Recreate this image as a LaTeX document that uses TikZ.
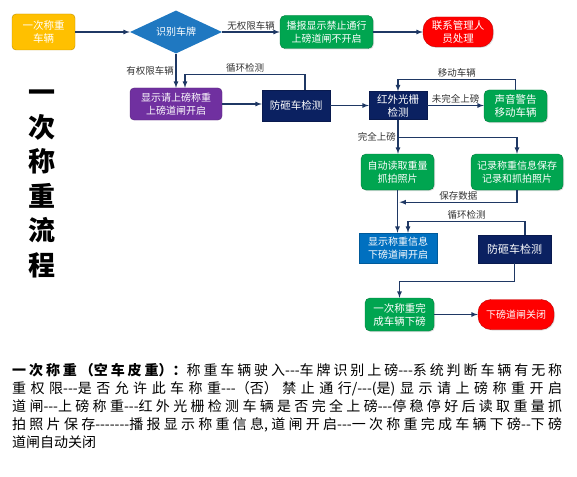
\documentclass[tikz,border=0pt]{standalone}
\usepackage{fontspec}
\newfontfamily\cjk{Noto Sans CJK SC}[Ligatures=TeXOff]
\usetikzlibrary{shapes.geometric,calc,shadows}
\XeTeXlinebreaklocale "zh"
\XeTeXlinebreakskip=0pt plus 4pt

\definecolor{startorange}{HTML}{FFC000}
\definecolor{plateblue}{HTML}{1F78C1}
\definecolor{flowgreen}{HTML}{00A550}
\definecolor{alarmred}{HTML}{FF0000}
\definecolor{openpurple}{HTML}{7030A0}
\definecolor{checknavy}{HTML}{0B2161}
\definecolor{infoblue}{HTML}{0070C0}
\definecolor{arrowblue}{HTML}{1F3864}
\definecolor{labelgray}{HTML}{333333}

\begin{document}
\begin{tikzpicture}[
    x=1pt, y=-1pt,
    box/.style={rectangle, align=center, text=white, inner sep=0pt, font=\cjk\fontsize{10}{12.5}\selectfont},
    greenbox/.style={box, fill=flowgreen, draw=flowgreen!75!black, rounded corners=5pt, drop shadow={shadow xshift=1pt, shadow yshift=-1pt, opacity=0.25}},
    redbox/.style={box, fill=alarmred, draw=alarmred!75!black, rounded corners=13pt, drop shadow={shadow xshift=1pt, shadow yshift=-1pt, opacity=0.25}},
    navybox/.style={box, fill=checknavy, draw=checknavy!80!black, font=\cjk\fontsize{10.5}{13}\selectfont},
    line/.style={draw=arrowblue, line width=1.2pt, -latex},
    lbl/.style={text=labelgray, inner sep=1.5pt, font=\cjk\fontsize{9.5}{11}\selectfont}
]
\useasboundingbox (0,0) rectangle (577,476);

% top row
\node[box, fill=startorange, draw=startorange!75!black, rounded corners=4pt, minimum width=63pt, minimum height=36pt, font=\cjk\fontsize{10.5}{13}\selectfont] (start) at (43.5,32) {一次称重\\车辆};
\node[box, diamond, aspect=2.14, fill=plateblue, minimum width=92pt, minimum height=43pt] (plate) at (176,32) {识别车牌};
\node[greenbox, minimum width=93pt, minimum height=33pt] (deny) at (326.5,32) {播报显示禁止通行\\上磅道闸不开启};
\node[redbox, minimum width=70pt, minimum height=30pt, font=\cjk\fontsize{10.5}{13}\selectfont] (manager) at (458,32) {联系管理人\\员处理};

% second row
\node[box, fill=openpurple, draw=openpurple!75!black, rounded corners=4pt, minimum width=92pt, minimum height=32pt] (showon) at (176,104) {显示请上磅称重\\上磅道闸开启};
\node[navybox, minimum width=68pt, minimum height=31pt] (guardin) at (296,105.5) {防砸车检测};
\node[navybox, minimum width=58pt, minimum height=28pt] (grating) at (398,105.5) {红外光栅\\检测};
\node[greenbox, minimum width=63pt, minimum height=32pt, font=\cjk\fontsize{10.5}{13}\selectfont] (warn) at (515.5,106) {声音警告\\移动车辆};

% weighing
\node[greenbox, minimum width=73pt, minimum height=36pt] (autoread) at (397.5,172) {自动读取重量\\抓拍照片};
\node[greenbox, minimum width=92pt, minimum height=36pt] (record) at (517,172) {记录称重信息保存\\记录和抓拍照片};
\node[box, fill=infoblue, draw=infoblue!80!black, minimum width=78pt, minimum height=30pt] (showinfo) at (398,248) {显示称重信息\\下磅道闸开启};
\node[navybox, minimum width=73pt, minimum height=28pt, font=\cjk\fontsize{11}{13}\selectfont] (guardout) at (514.5,249) {防砸车检测};
\node[greenbox, minimum width=69pt, minimum height=33pt, font=\cjk\fontsize{10.5}{13}\selectfont] (done) at (399.5,314.5) {一次称重完\\成车辆下磅};
\node[redbox, minimum width=76pt, minimum height=30pt] (close) at (516,314.5) {下磅道闸关闭};

% title and description
\node[font=\cjk\bfseries\fontsize{27}{34.5}\selectfont, align=center, inner sep=0pt] (title) at (42,184) {一\\次\\称\\重\\流\\程};
\node[anchor=north west, text width=550pt, align=justify, inner sep=0pt, font=\cjk\fontsize{14}{18}\selectfont] (desc) at (12,363) {\textbf{一次称重（空车皮重）：}称重车辆驶入---车牌识别上磅---系统判断车辆有无称\linebreak 重权限---是否允许此车称重---（否）禁止通行/---(是) 显示请上磅称重开启\linebreak 道闸---上磅称重---红外光栅检测车辆是否完全上磅---停稳停好后读取重量抓\linebreak 拍照片保存-------播报显示称重信息,道闸开启---一次称重完成车辆下磅--下磅\linebreak 道闸自动关闭};

% connectors
\draw[line] (start.east) -- (plate.west);
\draw[line] (plate.east) -- node[lbl, above] {无权限车辆} (deny.west);
\draw[line] (deny.east) -- (manager.west);
\draw[line] (plate.south) -- node[lbl, left] {有权限车辆} (showon.north);
\draw[line] (showon.east) -- (guardin.west |- showon.east);
\draw[line] ([xshift=9pt]guardin.north) -- ++(0,-15) -| node[lbl, pos=0.25, above] {循环检测} ([xshift=9pt]showon.north);
\draw[line] (guardin.east) -- (grating.west);
\draw[line] (grating.east) -- node[lbl, above] {未完全上磅} (warn.west |- grating.east);
\draw[line] (warn.north) -- ++(0,-10) -| node[lbl, pos=0.25, above] {移动车辆} (grating.north);
\draw[line] (grating.south) -- node[lbl, left] {完全上磅} (grating.south |- autoread.north);
\draw[line] ($(grating.south)+(0,18)$) -| (record.north);
\draw[line] (autoread.south) -- (autoread.south |- showinfo.north);
\draw[line] (record.south) |- node[lbl, pos=0.75, above] {保存数据} ($(autoread.south)+(2,12)$);
\draw[line] ([xshift=10.5pt]guardout.north) -- ++(0,-13) -| node[lbl, pos=0.25, above] {循环检测} ([xshift=10pt]showinfo.north);
\draw[line] (guardout.south) -- ++(0,18) -| (done.north);
\draw[line] (done.east) -- (close.west);

\end{tikzpicture}
\end{document}
